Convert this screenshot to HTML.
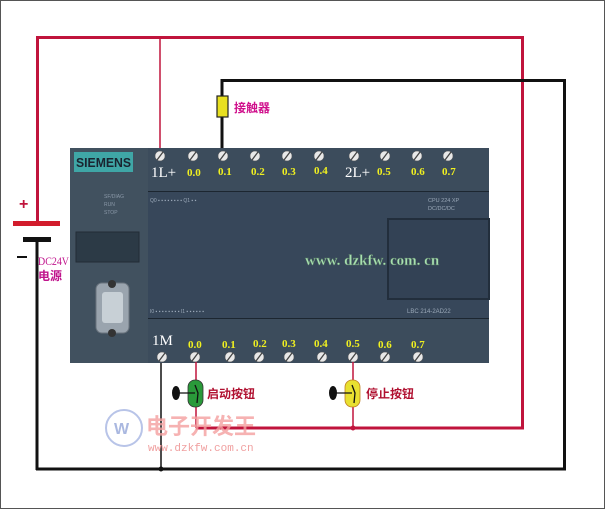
<!DOCTYPE html>
<html><head><meta charset="utf-8"><style>
html,body{margin:0;padding:0;background:#fff;}
svg{display:block;}
</style></head><body>
<svg width="605" height="509" viewBox="0 0 605 509" xmlns="http://www.w3.org/2000/svg">
<rect x="0.5" y="0.5" width="604" height="508" fill="#fff" stroke="#555" stroke-width="1"/>
<path d="M37.5 222 V37.5 H522.5 V428 H196" fill="none" stroke="#c0143c" stroke-width="3"/>
<line x1="160" y1="37" x2="160" y2="150" stroke="#c0143c" stroke-width="1.5"/>
<path d="M222 150 V80.5 H564.5 V469 H36" fill="none" stroke="#111" stroke-width="3"/>
<line x1="37" y1="240" x2="37" y2="470" stroke="#111" stroke-width="3"/>
<line x1="161" y1="360" x2="161" y2="469" stroke="#111" stroke-width="1.5"/>
<circle cx="161" cy="469" r="2.5" fill="#111"/>
<rect x="13" y="221" width="47" height="5" fill="#d21c2c"/>
<rect x="23" y="237" width="28" height="5" fill="#111"/>
<text x="19" y="209" font-family="Liberation Sans,sans-serif" font-size="16" font-weight="bold" fill="#c0143c">+</text>
<rect x="17" y="256" width="10" height="2" fill="#111"/>
<text x="38" y="265" font-family="Liberation Serif,serif" font-size="12" fill="#c0148c" textLength="31" lengthAdjust="spacingAndGlyphs">DC24V</text>
<text x="38" y="280" font-family="Liberation Sans,'Noto Sans CJK SC',sans-serif" font-size="12" font-weight="bold" fill="#c0148c">电源</text>
<rect x="217" y="96" width="11" height="21" fill="#e8e020" stroke="#222" stroke-width="1.2"/>
<text x="234" y="112" font-family="Liberation Sans,'Noto Sans CJK SC',sans-serif" font-size="12" font-weight="bold" fill="#d0108c">接触器</text>
<rect x="70" y="148" width="419" height="215" fill="#3c4c5c"/>
<rect x="70" y="148" width="78" height="215" fill="#41515f"/>
<rect x="74" y="152" width="59" height="20" fill="#3fa6a6"/>
<text x="76" y="167" font-family="Liberation Sans,sans-serif" font-size="13" font-weight="bold" fill="#1a2430" textLength="55" lengthAdjust="spacingAndGlyphs">SIEMENS</text>
<text x="104" y="198" font-family="Liberation Sans,sans-serif" font-size="5" fill="#8a98a8">SF/DIAG</text>
<text x="104" y="206" font-family="Liberation Sans,sans-serif" font-size="5" fill="#8a98a8">RUN</text>
<text x="104" y="214" font-family="Liberation Sans,sans-serif" font-size="5" fill="#8a98a8">STOP</text>
<rect x="76" y="232" width="63" height="30" fill="#2c3a46" stroke="#222c36"/>
<rect x="96" y="283" width="33" height="50" rx="6" fill="#9aa4ae" stroke="#6a747e"/>
<rect x="102" y="292" width="21" height="31" rx="3" fill="#c8d0d6"/>
<circle cx="112" cy="284" r="4" fill="#333"/><circle cx="112" cy="333" r="4" fill="#333"/>
<path d="M148 192 H489 M148 318 H489" stroke="#1c2630" stroke-width="2"/>
<rect x="148" y="192" width="341" height="126" fill="#37475a"/>
<rect x="388" y="219" width="101" height="80" fill="#334255" stroke="#222e3c" stroke-width="2"/>
<text x="150" y="202" font-family="Liberation Sans,sans-serif" font-size="5" fill="#9aa8b8">Q0 ▪ ▪ ▪ ▪ ▪ ▪ ▪ ▪  Q1 ▪ ▪</text>
<text x="428" y="202" font-family="Liberation Sans,sans-serif" font-size="5.5" fill="#9aa8b8">CPU 224 XP</text>
<text x="428" y="210" font-family="Liberation Sans,sans-serif" font-size="5.5" fill="#9aa8b8">DC/DC/DC</text>
<text x="150" y="313" font-family="Liberation Sans,sans-serif" font-size="5" fill="#9aa8b8">I0 ▪ ▪ ▪ ▪ ▪ ▪ ▪ ▪  I1 ▪ ▪ ▪ ▪ ▪ ▪</text>
<text x="407" y="313" font-family="Liberation Sans,sans-serif" font-size="6" fill="#9aa8b8">LBC 214-2AD22</text>
<text x="305" y="265" font-family="Liberation Serif,serif" font-size="15" font-weight="bold" fill="#a8e0b0" stroke="#507060" stroke-width="0.4">www. dzkfw. com. cn</text>
<g fill="#e8e8e8" stroke="#555" stroke-width="0.5">
<circle cx="160" cy="156" r="5"/><circle cx="193" cy="156" r="5"/><circle cx="223" cy="156" r="5"/><circle cx="255" cy="156" r="5"/><circle cx="287" cy="156" r="5"/><circle cx="319" cy="156" r="5"/><circle cx="354" cy="156" r="5"/><circle cx="385" cy="156" r="5"/><circle cx="417" cy="156" r="5"/><circle cx="448" cy="156" r="5"/>
<circle cx="162" cy="357" r="5"/><circle cx="195" cy="357" r="5"/><circle cx="230" cy="357" r="5"/><circle cx="259" cy="357" r="5"/><circle cx="289" cy="357" r="5"/><circle cx="322" cy="357" r="5"/><circle cx="353" cy="357" r="5"/><circle cx="385" cy="357" r="5"/><circle cx="418" cy="357" r="5"/>
</g>
<g stroke="#444" stroke-width="1.3">
<path d="M157 160l6-8M190 160l6-8M220 160l6-8M252 160l6-8M284 160l6-8M316 160l6-8M351 160l6-8M382 160l6-8M414 160l6-8M445 160l6-8"/>
<path d="M159 361l6-8M192 361l6-8M227 361l6-8M256 361l6-8M286 361l6-8M319 361l6-8M350 361l6-8M382 361l6-8M415 361l6-8"/>
</g>
<g font-family="Liberation Serif,serif">
<text x="151" y="177" font-size="15" fill="#fff">1L+</text>
<text x="345" y="177" font-size="15" fill="#fff">2L+</text>
<text x="152" y="345" font-size="15" fill="#fff">1M</text>
<g font-size="11" font-weight="bold" fill="#f0f020">
<text x="187" y="176">0.0</text><text x="218" y="175">0.1</text><text x="251" y="175">0.2</text><text x="282" y="175">0.3</text><text x="314" y="174">0.4</text><text x="377" y="175">0.5</text><text x="411" y="175">0.6</text><text x="442" y="175">0.7</text>
<text x="188" y="348">0.0</text><text x="222" y="348">0.1</text><text x="253" y="347">0.2</text><text x="282" y="347">0.3</text><text x="314" y="347">0.4</text><text x="346" y="347">0.5</text><text x="378" y="348">0.6</text><text x="411" y="348">0.7</text>
</g></g>
<line x1="196" y1="362" x2="196" y2="428" stroke="#c0143c" stroke-width="1.5"/>
<line x1="353" y1="362" x2="353" y2="428" stroke="#c0143c" stroke-width="1.5"/>
<circle cx="353" cy="428" r="2.5" fill="#c0143c"/>
<rect x="188" y="380" width="15" height="27" rx="7" fill="#2a9a3a" stroke="#333" stroke-width="0.8"/>
<ellipse cx="176" cy="393" rx="4" ry="7" fill="#111"/>
<path d="M176 393 H195 M195 385 L198 393 L197 403" stroke="#111" stroke-width="1.3" fill="none"/>
<text x="207" y="398" font-family="Liberation Sans,'Noto Sans CJK SC',sans-serif" font-size="12" font-weight="bold" fill="#b01030">启动按钮</text>
<rect x="345" y="380" width="15" height="27" rx="7" fill="#e8e030" stroke="#c08020" stroke-width="0.8"/>
<ellipse cx="333" cy="393" rx="4" ry="7" fill="#111"/>
<path d="M333 393 H352 M352 385 L355 393 L354 403" stroke="#111" stroke-width="1.3" fill="none"/>
<text x="366" y="398" font-family="Liberation Sans,'Noto Sans CJK SC',sans-serif" font-size="12" font-weight="bold" fill="#b01030">停止按钮</text>
<circle cx="124" cy="428" r="18" fill="none" stroke="#b8c4e8" stroke-width="2"/>
<text x="114" y="434" font-family="Liberation Sans,sans-serif" font-size="16" font-weight="bold" fill="#aab8e0">W</text>
<text x="146" y="434" font-family="Liberation Sans,'Noto Sans CJK SC',sans-serif" font-size="22" font-weight="bold" fill="#f4a0a0" opacity="0.8">电子开发王</text>
<text x="148" y="451" font-family="Liberation Mono,monospace" font-size="11" fill="#f0a0a0">www.dzkfw.com.cn</text>
</svg>
</body></html>
